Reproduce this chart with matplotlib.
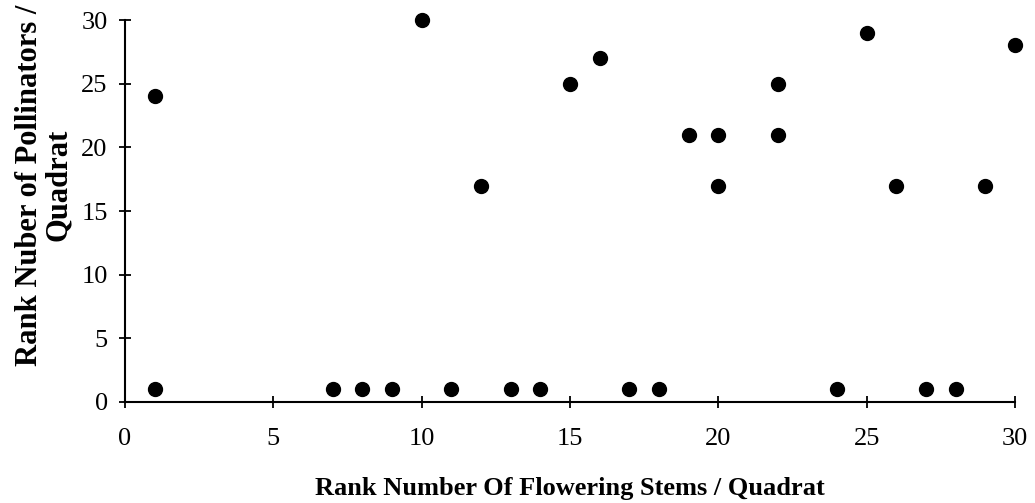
import matplotlib.pyplot as plt

plt.rcParams['font.family'] = ['Liberation Serif', 'DejaVu Serif']

# rank data
stems_rank = [1, 1, 7, 8, 9, 10, 11, 12, 13, 14, 15, 16, 17, 18, 19, 20, 20,
              22, 22, 24, 25, 26, 27, 28, 29, 30]
pollinator_rank = [24, 1, 1, 1, 1, 30, 1, 17, 1, 1, 25, 27, 1, 1, 21, 21, 17,
                   25, 21, 1, 29, 17, 1, 1, 17, 28]
ticks = [0, 5, 10, 15, 20, 25, 30]

fig = plt.figure(figsize=(10.35, 5.03), dpi=100)
ax = fig.add_axes([0.1208, 0.2008, 0.86, 0.7594])

ax.scatter(stems_rank, pollinator_rank, s=100, color='black', clip_on=False, zorder=3)

ax.set_xlim(0, 30)
ax.set_ylim(0, 30)
ax.set_xticks(ticks)
ax.set_yticks(ticks)
ax.spines['top'].set_visible(False)
ax.spines['right'].set_visible(False)
ax.spines['left'].set_linewidth(1.5)
ax.spines['bottom'].set_linewidth(1.5)
ax.tick_params(direction='inout', length=9, width=1.3, labelsize=19)
ax.tick_params(axis='x', pad=14)
ax.tick_params(axis='y', pad=8)

ax.set_xlabel('Rank Number Of Flowering Stems / Quadrat', fontsize=19,
              fontweight='bold', labelpad=20)
ax.set_ylabel('Rank Nuber of Pollinators /\nQuadrat', fontsize=22,
              fontweight='bold', linespacing=1.0)
ax.yaxis.set_label_coords(-0.059, 0.568)

fig.savefig('out.png', dpi=100)
